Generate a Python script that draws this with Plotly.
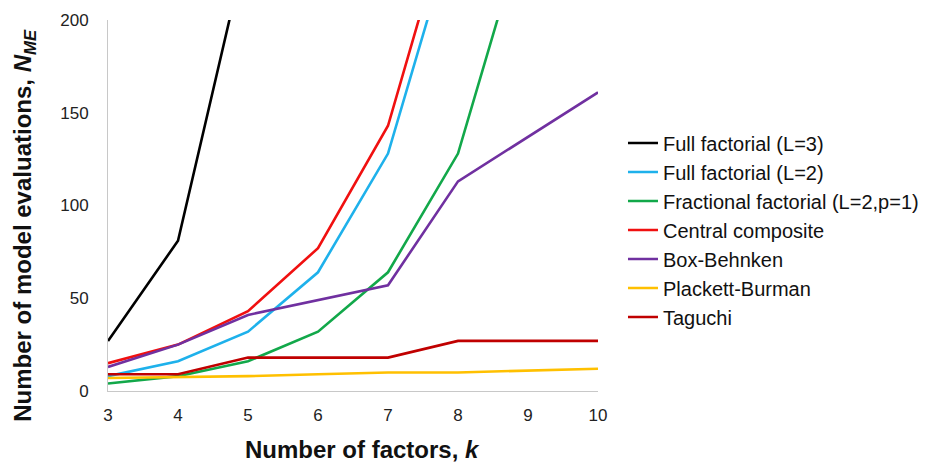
import plotly.graph_objects as go

k = [3, 4, 5, 6, 7, 8, 9, 10]
full_l3 = [27, 81, 243, 729, 2187, 6561, 19683, 59049]
full_l2 = [8, 16, 32, 64, 128, 256, 512, 1024]
frac_l2p1 = [4, 8, 16, 32, 64, 128, 256, 512]
central_comp = [15, 25, 43, 77, 143, 273, 531, 1045]
box_behnken = [13, 25, 41, 49, 57, 113, 137, 161]
plackett_burman = [7, 7.5, 8, 9, 10, 10, 11, 12]
taguchi = [9, 9, 18, 18, 18, 27, 27, 27]

series = [
    ("Full factorial (L=3)", full_l3, "#000000"),
    ("Full factorial (L=2)", full_l2, "#1EB1EB"),
    ("Fractional factorial (L=2,p=1)", frac_l2p1, "#12A84A"),
    ("Central composite", central_comp, "#F01010"),
    ("Box-Behnken", box_behnken, "#7030A0"),
    ("Plackett-Burman", plackett_burman, "#FFC000"),
    ("Taguchi", taguchi, "#C00000"),
]

fig = go.Figure()
for i, (name, vals, col) in enumerate(series):
    fig.add_trace(go.Scatter(x=k, y=vals, mode="lines", name=name, legendgroup=str(i),
                             line=dict(color=col, width=2.6)))

font = "Liberation Sans, Arial, sans-serif"
fig.update_layout(
    width=939, height=465,
    margin=dict(l=108, r=341, t=20, b=74),
    paper_bgcolor="white", plot_bgcolor="white",
    font=dict(family=font, color="#222222", size=17),
    showlegend=True,
    legend=dict(x=1.051, xanchor="left", y=0.434, yanchor="middle",
                font=dict(size=20, color="#111111"), itemwidth=30,
                tracegroupgap=0),
    xaxis=dict(range=[3, 10], tickvals=k, showgrid=False, zeroline=False,
               showline=True, linecolor="#C8C8C8", linewidth=1,
               ticks="", tickfont=dict(size=17), ticklabelstandoff=9),
    yaxis=dict(range=[0, 200], tickvals=[0, 50, 100, 150, 200], showgrid=False,
               zeroline=False, showline=True, linecolor="#C8C8C8", linewidth=1,
               ticks="", tickfont=dict(size=17), ticklabelstandoff=15),
    annotations=[
        dict(text="<b>Number of model evaluations, <i>N<sub>ME</sub></i></b>",
             textangle=-90, xref="paper", yref="paper",
             x=-0.171, y=0.446, xanchor="center", yanchor="middle",
             showarrow=False, font=dict(size=24, color="#111111")),
        dict(text="<b>Number of factors, <i>k</i></b>",
             xref="paper", yref="paper", x=0.52, y=-0.158,
             xanchor="center", yanchor="middle",
             showarrow=False, font=dict(size=24, color="#111111")),
    ],
)

fig.write_html("out.html")
